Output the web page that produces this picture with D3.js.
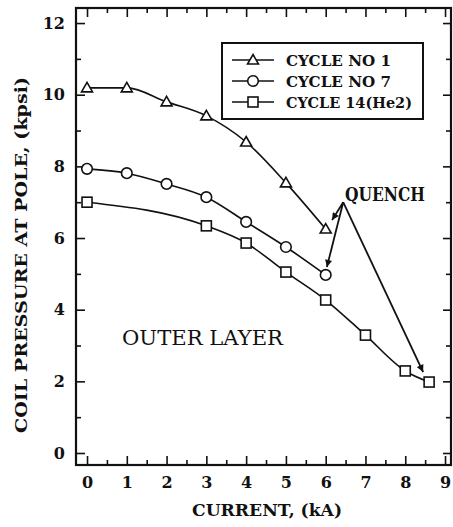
<!DOCTYPE html>
<html>
<head>
<meta charset="utf-8">
<script src="https://cdn.jsdelivr.net/npm/d3@7"></script>
<style>
  html, body { margin: 0; padding: 0; background: #fff; }
  svg { display: block; }
  text { font-family: "DejaVu Serif", "Liberation Serif", serif; fill: #111; }
</style>
</head>
<body>
<svg id="chart" width="453" height="527"></svg>
<script>
// ---- data ----
const currentCycle1 = [0, 1, 2, 3, 4, 5, 6];
const pressureCycle1 = [10.19, 10.19, 9.80, 9.41, 8.68, 7.54, 6.25];
const currentCycle7 = [0, 1, 2, 3, 4, 5, 6];
const pressureCycle7 = [7.93, 7.81, 7.51, 7.14, 6.45, 5.75, 4.97];
const currentCycle14 = [0, 3, 4, 5, 6, 7, 8, 8.6];
const pressureCycle14 = [7.0, 6.34, 5.86, 5.05, 4.27, 3.29, 2.29, 1.98];
const seriesNames = ["CYCLE NO 1", "CYCLE NO 7", "CYCLE 14(He2)"];
const xTicks = [0, 1, 2, 3, 4, 5, 6, 7, 8, 9];
const xMinorTicks = [0.5, 1.5, 2.5, 3.5, 4.5, 5.5, 6.5, 7.5, 8.5];
const yTicks = [0, 2, 4, 6, 8, 10, 12];
const yMinorTicks = [1, 3, 5, 7, 9, 11];
const quenchOrigin = [6.44, 7.0];
const quenchTargets = [[6.16, 6.5], [6.03, 5.19], [8.45, 2.26]];

// ---- layout ----
const svg = d3.select("#chart");
const L = 76, R = 451, T = 8, B = 465;
const x = d3.scaleLinear().domain([-0.277, 9.15]).range([L, R]);
const y = d3.scaleLinear().domain([-0.335, 12.42]).range([B, T]);

const series = [
  { name: seriesNames[0], xs: currentCycle1, ys: pressureCycle1, shape: "triangle" },
  { name: seriesNames[1], xs: currentCycle7, ys: pressureCycle7, shape: "circle" },
  { name: seriesNames[2], xs: currentCycle14, ys: pressureCycle14, shape: "square" }
];

function drawMarker(g, shape, cx, cy) {
  if (shape === "triangle") {
    g.append("path")
      .attr("d", `M${cx},${cy - 5.5} L${cx + 5.5},${cy + 4} L${cx - 5.5},${cy + 4} Z`)
      .attr("fill", "#fff").attr("stroke", "#111").attr("stroke-width", 1.6);
  } else if (shape === "circle") {
    g.append("circle").attr("cx", cx).attr("cy", cy).attr("r", 5.3)
      .attr("fill", "#fff").attr("stroke", "#111").attr("stroke-width", 1.6);
  } else {
    g.append("rect").attr("x", cx - 5).attr("y", cy - 5).attr("width", 10).attr("height", 10)
      .attr("fill", "#fff").attr("stroke", "#111").attr("stroke-width", 1.6);
  }
}

// ---- axes (inward ticks) ----
function axisGroup(axis, transform) {
  const g = svg.append("g").attr("transform", transform).call(axis);
  g.select(".domain").remove();
  g.selectAll(".tick line").attr("stroke", "#111").attr("stroke-width", 1.6);
  g.selectAll("text").attr("font-size", 16).attr("font-weight", "bold")
    .attr("font-family", "DejaVu Serif").attr("fill", "#111");
  return g;
}
axisGroup(d3.axisBottom(x).tickValues(xTicks).tickSize(-9).tickPadding(12).tickFormat(d3.format("d")), `translate(0,${B})`);
axisGroup(d3.axisBottom(x).tickValues(xMinorTicks).tickSize(-5).tickFormat(""), `translate(0,${B})`);
axisGroup(d3.axisTop(x).tickValues(xTicks).tickSize(-9).tickFormat(""), `translate(0,${T})`);
axisGroup(d3.axisTop(x).tickValues(xMinorTicks).tickSize(-5).tickFormat(""), `translate(0,${T})`);
axisGroup(d3.axisLeft(y).tickValues(yTicks).tickSize(-9).tickPadding(11).tickFormat(d3.format("d")), `translate(${L},0)`);
axisGroup(d3.axisLeft(y).tickValues(yMinorTicks).tickSize(-5).tickFormat(""), `translate(${L},0)`);
axisGroup(d3.axisRight(y).tickValues(yTicks).tickSize(-8).tickFormat(""), `translate(${R},0)`);
axisGroup(d3.axisRight(y).tickValues(yMinorTicks).tickSize(-5).tickFormat(""), `translate(${R},0)`);

svg.append("rect").attr("x", L).attr("y", T).attr("width", R - L).attr("height", B - T)
  .attr("fill", "none").attr("stroke", "#111").attr("stroke-width", 2.2);

// ---- curves and markers ----
const line = d3.line().curve(d3.curveMonotoneX);
series.forEach(s => {
  const pts = s.xs.map((v, i) => [x(v), y(s.ys[i])]);
  svg.append("path").attr("d", line(pts)).attr("fill", "none")
    .attr("stroke", "#111").attr("stroke-width", 1.6);
});
series.forEach(s => {
  const g = svg.append("g");
  s.xs.forEach((v, i) => drawMarker(g, s.shape, x(v), y(s.ys[i])));
});

// ---- quench annotation ----
svg.append("defs").append("marker")
  .attr("id", "ah").attr("viewBox", "0 0 10 10").attr("refX", 10).attr("refY", 5)
  .attr("markerWidth", 5).attr("markerHeight", 4).attr("markerUnits", "strokeWidth")
  .attr("orient", "auto")
  .append("path").attr("d", "M0,0 L10,5 L0,10 Z").attr("fill", "#111");
quenchTargets.forEach(t => {
  svg.append("line")
    .attr("x1", x(quenchOrigin[0])).attr("y1", y(quenchOrigin[1]))
    .attr("x2", x(t[0])).attr("y2", y(t[1]))
    .attr("stroke", "#111").attr("stroke-width", 1.8)
    .attr("marker-end", "url(#ah)");
});
svg.append("text").attr("x", 345).attr("y", 201).attr("font-size", 18).attr("font-weight", "bold")
  .attr("textLength", 80).attr("lengthAdjust", "spacingAndGlyphs").text("QUENCH");

svg.append("text").attr("x", 122).attr("y", 345).attr("font-size", 20)
  .attr("textLength", 161).attr("lengthAdjust", "spacingAndGlyphs").text("OUTER LAYER");

// ---- legend ----
const lg = svg.append("g");
lg.append("rect").attr("x", 222).attr("y", 43).attr("width", 201).attr("height", 76)
  .attr("fill", "#fff").attr("stroke", "#111").attr("stroke-width", 2);
const legendRows = [60, 81, 102];
const legendTextLen = [105, 105, 126];
series.forEach((s, i) => {
  const ry = legendRows[i];
  lg.append("line").attr("x1", 232).attr("x2", 274).attr("y1", ry).attr("y2", ry)
    .attr("stroke", "#111").attr("stroke-width", 1.6);
  drawMarker(lg, s.shape, 253, ry);
  lg.append("text").attr("x", 286).attr("y", ry + 5.5).attr("font-size", 15).attr("font-weight", "bold")
    .attr("textLength", legendTextLen[i]).attr("lengthAdjust", "spacingAndGlyphs").text(s.name);
});

// ---- axis titles ----
svg.append("text").attr("x", 192).attr("y", 516).attr("font-size", 16).attr("font-weight", "bold")
  .attr("textLength", 150).attr("lengthAdjust", "spacingAndGlyphs").text("CURRENT, (kA)");
svg.append("text").attr("transform", "translate(27,433) rotate(-90)").attr("font-size", 16)
  .attr("font-weight", "bold").attr("textLength", 356).attr("lengthAdjust", "spacingAndGlyphs")
  .text("COIL PRESSURE AT POLE, (kpsi)");
</script>
</body>
</html>
